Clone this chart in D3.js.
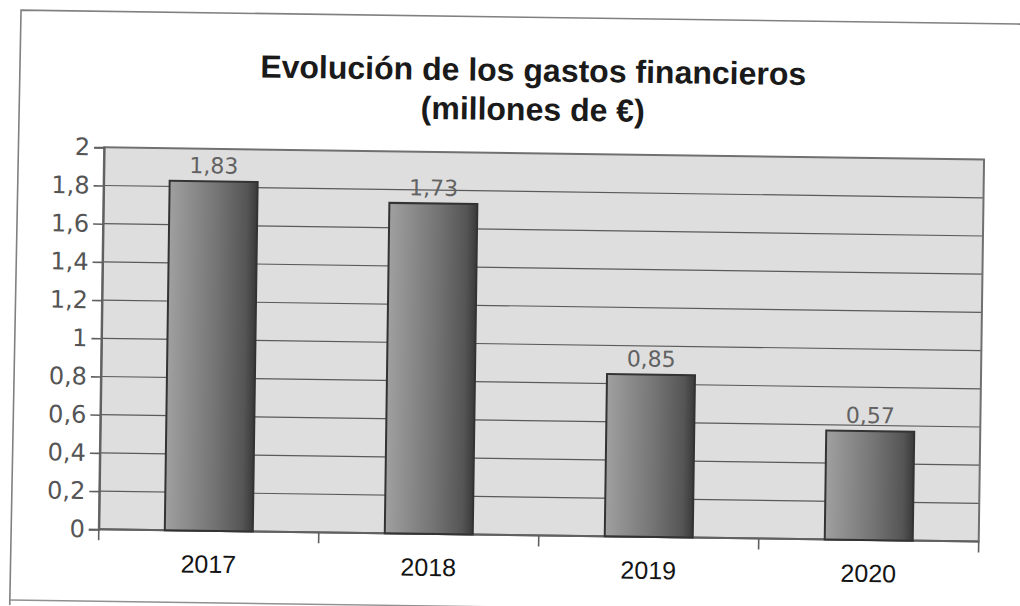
<!DOCTYPE html>
<html>
<head>
<meta charset="utf-8">
<script src="https://cdn.jsdelivr.net/npm/d3@7"></script>
<style>
  html, body { margin: 0; padding: 0; background: #fff; }
  svg { display: block; }
</style>
</head>
<body>
<script>
// Gastos financieros por año (millones de €)
const categories = ["2017", "2018", "2019", "2020"];
const values = [1.83, 1.73, 0.85, 0.57];
const valueLabels = ["1,83", "1,73", "0,85", "0,57"];
const yTicks = [0, 0.2, 0.4, 0.6, 0.8, 1, 1.2, 1.4, 1.6, 1.8, 2];
const titleLines = ["Evolución de los gastos financieros", "(millones de €)"];

const W = 1020, H = 606;
const plot = { left: 102, right: 982, top: 153, bottom: 535 };

const svg = d3.select("body").append("svg")
  .attr("width", W).attr("height", H);

const defs = svg.append("defs");
const grad = defs.append("linearGradient")
  .attr("id", "barFill").attr("x1", "0%").attr("x2", "100%").attr("y1", "0%").attr("y2", "0%");
grad.append("stop").attr("offset", "0%").attr("stop-color", "#a0a0a0");
grad.append("stop").attr("offset", "55%").attr("stop-color", "#747474");
grad.append("stop").attr("offset", "88%").attr("stop-color", "#555555");
grad.append("stop").attr("offset", "100%").attr("stop-color", "#3a3a3a");

// the whole page sits slightly tilted
const g = svg.append("g").attr("transform", "rotate(0.8, 510, 303)");

// outer frame
g.append("path")
  .attr("d", `M1100,17 L17,17 L14,612`)
  .attr("fill", "none").attr("stroke", "#808080").attr("stroke-width", 1.6);
g.append("line")
  .attr("x1", 14).attr("x2", 1100).attr("y1", 607).attr("y2", 607)
  .attr("stroke", "#909090").attr("stroke-width", 1.4);

// title, two lines
g.append("g").selectAll("text").data(titleLines).join("text")
  .attr("x", 530)
  .attr("y", (d, i) => 81 + i * 39)
  .attr("text-anchor", "middle")
  .attr("font-family", "'Liberation Sans', Arial, sans-serif")
  .attr("font-weight", "bold")
  .attr("font-size", 32)
  .attr("fill", "#1a1a1a")
  .text(d => d);

const x = d3.scaleBand()
  .domain(categories)
  .range([plot.left, plot.right])
  .paddingInner(0.6).paddingOuter(0.3);

const y = d3.scaleLinear()
  .domain([0, 2])
  .range([plot.bottom, plot.top]);

// plot background
g.append("rect")
  .attr("x", plot.left).attr("y", plot.top)
  .attr("width", plot.right - plot.left).attr("height", plot.bottom - plot.top)
  .attr("fill", "#dedede");

// horizontal grid
g.append("g").selectAll("line").data(yTicks.filter(d => d > 0 && d < 2)).join("line")
  .attr("x1", plot.left).attr("x2", plot.right)
  .attr("y1", d => y(d)).attr("y2", d => y(d))
  .attr("stroke", "#5a5a5a").attr("stroke-width", 1.2);

// plot border
g.append("rect")
  .attr("x", plot.left).attr("y", plot.top)
  .attr("width", plot.right - plot.left).attr("height", plot.bottom - plot.top)
  .attr("fill", "none").attr("stroke", "#707070").attr("stroke-width", 2);

// y axis
const yAxis = d3.axisLeft(y)
  .tickValues(yTicks)
  .tickSize(10)
  .tickPadding(4)
  .tickFormat(d => d3.format(".1~f")(d).replace(".", ","));
const ya = g.append("g").attr("transform", `translate(${plot.left},0)`).call(yAxis);
ya.select(".domain").attr("stroke", "#606060").attr("stroke-width", 2);
ya.selectAll(".tick line").attr("stroke", "#606060").attr("stroke-width", 1.6);
ya.selectAll(".tick text")
  .attr("font-family", "'DejaVu Sans', sans-serif")
  .attr("font-size", 24)
  .attr("fill", "#555");

// x axis: ticks at category boundaries
const bounds = d3.range(categories.length + 1).map(i => plot.left + i * x.step());
g.append("g").selectAll("line").data(bounds).join("line")
  .attr("x1", d => d).attr("x2", d => d)
  .attr("y1", plot.bottom).attr("y2", plot.bottom + 11)
  .attr("stroke", "#606060").attr("stroke-width", 1.6);
g.append("line")
  .attr("x1", plot.left).attr("x2", plot.right)
  .attr("y1", plot.bottom).attr("y2", plot.bottom)
  .attr("stroke", "#606060").attr("stroke-width", 2);

g.append("g").selectAll("text").data(categories).join("text")
  .attr("x", d => x(d) + x.bandwidth() / 2)
  .attr("y", plot.bottom + 42)
  .attr("text-anchor", "middle")
  .attr("font-family", "'Liberation Sans', Arial, sans-serif")
  .attr("font-size", 25)
  .attr("fill", "#141414")
  .text(d => d);

// bars
g.append("g").selectAll("rect").data(values).join("rect")
  .attr("x", (d, i) => x(categories[i]))
  .attr("y", d => y(d))
  .attr("width", x.bandwidth())
  .attr("height", d => y(0) - y(d))
  .attr("fill", "url(#barFill)")
  .attr("stroke", "#333")
  .attr("stroke-width", 2);

// value labels
g.append("g").selectAll("text").data(values).join("text")
  .attr("x", (d, i) => x(categories[i]) + x.bandwidth() / 2)
  .attr("y", d => y(d) - 8)
  .attr("text-anchor", "middle")
  .attr("font-family", "'DejaVu Sans', sans-serif")
  .attr("font-size", 22)
  .attr("fill", "#626262")
  .text((d, i) => valueLabels[i]);
</script>
</body>
</html>
